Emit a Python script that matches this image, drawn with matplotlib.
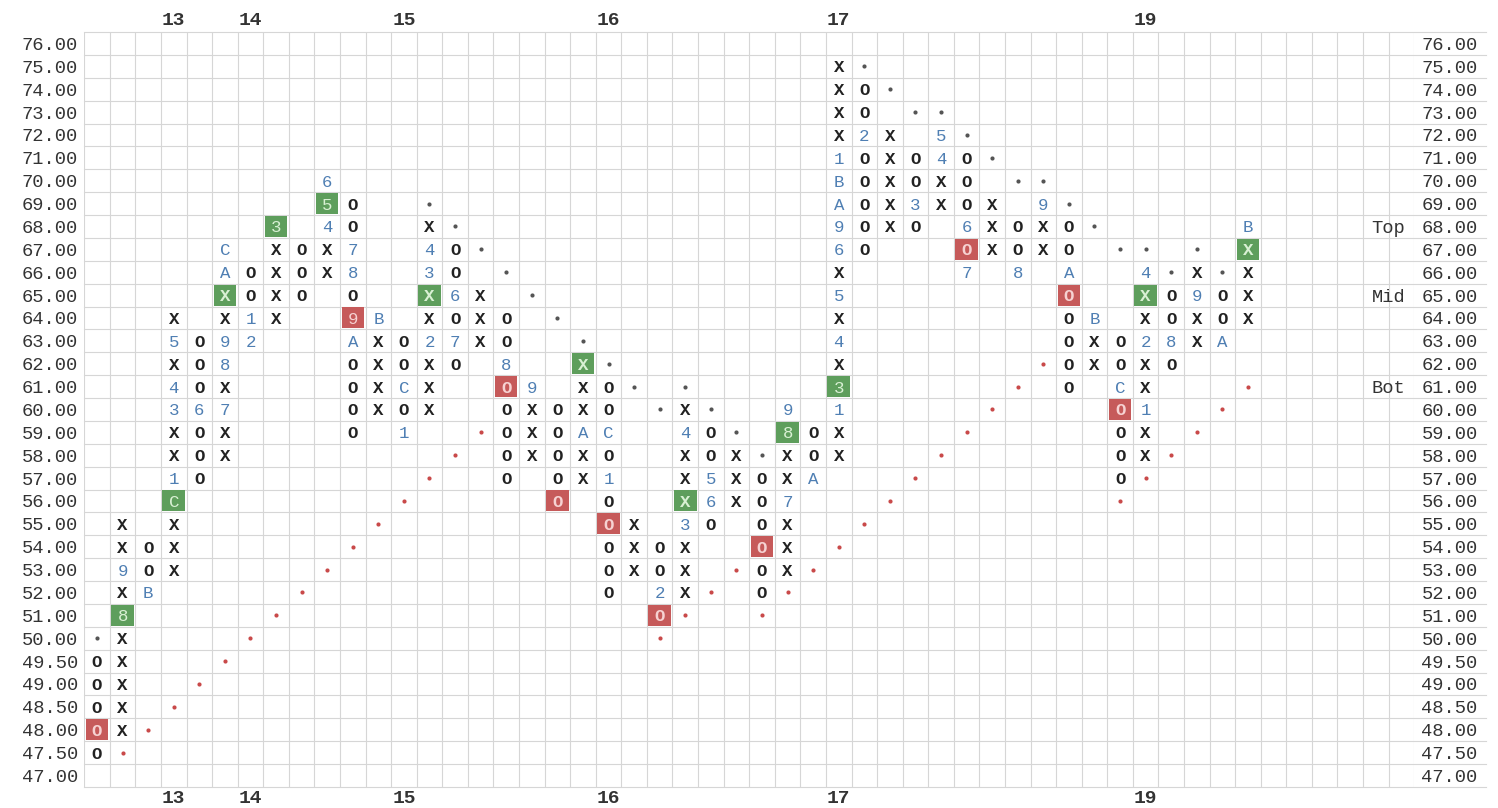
import matplotlib.pyplot as plt
from matplotlib.patches import Rectangle
import numpy as np

# price rows (box size 0.50 below 50, 1.00 above)
price_levels = [47.0, 47.5, 48.0, 48.5, 49.0, 49.5] + list(range(50, 77))

# point & figure columns: (kind, first box, last box)
columns = [
    ('O', 49.5, 47.5), ('X', 48, 55), ('O', 54, 52), ('X', 53, 64), ('O', 63, 57),
    ('X', 58, 67), ('O', 66, 63), ('X', 64, 68), ('O', 67, 65), ('X', 66, 70),
    ('O', 69, 59), ('X', 60, 64), ('O', 63, 59), ('X', 60, 68), ('O', 67, 62),
    ('X', 63, 65), ('O', 64, 57), ('X', 58, 61), ('O', 60, 56), ('X', 57, 62),
    ('O', 61, 52), ('X', 53, 55), ('O', 54, 51), ('X', 52, 60), ('O', 59, 55),
    ('X', 56, 58), ('O', 57, 52), ('X', 53, 60), ('O', 59, 57), ('X', 58, 75),
    ('O', 74, 67), ('X', 68, 72), ('O', 71, 68), ('X', 69, 72), ('O', 71, 66),
    ('X', 67, 69), ('O', 68, 66), ('X', 67, 69), ('O', 68, 61), ('X', 62, 64),
    ('O', 63, 57), ('X', 58, 66), ('O', 65, 62), ('X', 63, 66), ('O', 65, 63),
    ('X', 64, 68),
]

# month markers (column, price, char)
months = [
    (1, 53, '9'), (1, 51, '8'), (2, 52, 'B'), (3, 63, '5'), (3, 61, '4'), (3, 60, '3'),
    (3, 57, '1'), (3, 56, 'C'), (4, 60, '6'), (5, 67, 'C'), (5, 66, 'A'), (5, 63, '9'),
    (5, 62, '8'), (5, 60, '7'), (6, 64, '1'), (6, 63, '2'), (7, 68, '3'), (9, 70, '6'),
    (9, 69, '5'), (9, 68, '4'), (10, 67, '7'), (10, 66, '8'), (10, 64, '9'), (10, 63, 'A'),
    (11, 64, 'B'), (12, 61, 'C'), (12, 59, '1'), (13, 67, '4'), (13, 66, '3'), (13, 63, '2'),
    (14, 65, '6'), (14, 63, '7'), (16, 62, '8'), (17, 61, '9'), (19, 59, 'A'), (20, 59, 'C'),
    (20, 57, '1'), (22, 52, '2'), (23, 59, '4'), (23, 55, '3'), (24, 57, '5'), (24, 56, '6'),
    (27, 60, '9'), (27, 59, '8'), (27, 56, '7'), (28, 57, 'A'), (29, 71, '1'), (29, 70, 'B'),
    (29, 69, 'A'), (29, 68, '9'), (29, 67, '6'), (29, 65, '5'), (29, 63, '4'), (29, 61, '3'),
    (29, 60, '1'), (30, 72, '2'), (32, 69, '3'), (33, 72, '5'), (33, 71, '4'), (34, 68, '6'),
    (34, 66, '7'), (36, 66, '8'), (37, 69, '9'), (38, 66, 'A'), (39, 64, 'B'), (40, 61, 'C'),
    (41, 66, '4'), (41, 63, '2'), (41, 60, '1'), (42, 63, '8'), (43, 65, '9'), (44, 63, 'A'),
    (45, 68, 'B'),
]

# signal boxes
buy_boxes = [(1, 51), (3, 56), (5, 65), (7, 68), (9, 69), (13, 65), (19, 62),
             (23, 56), (27, 59), (29, 61), (41, 65), (45, 67)]
sell_boxes = [(0, 48), (10, 64), (16, 61), (18, 56), (20, 55), (22, 51), (26, 54),
              (34, 67), (38, 65), (40, 60)]

# trend line dots
support_dots = [
    (1, 47.5), (2, 48), (3, 48.5), (4, 49), (5, 49.5), (6, 50), (7, 51), (8, 52),
    (9, 53), (10, 54), (11, 55), (12, 56), (13, 57), (14, 58), (15, 59),
    (22, 50), (23, 51), (24, 52), (25, 53),
    (26, 51), (27, 52), (28, 53), (29, 54), (30, 55), (31, 56), (32, 57), (33, 58),
    (34, 59), (35, 60), (36, 61), (37, 62),
    (40, 56), (41, 57), (42, 58), (43, 59), (44, 60), (45, 61),
]
resist_dots = [
    (0, 50), (13, 69), (14, 68), (15, 67), (16, 66), (17, 65), (18, 64), (19, 63),
    (20, 62), (21, 61), (22, 60), (23, 61), (24, 60), (25, 59), (26, 58),
    (30, 75), (31, 74), (32, 73), (33, 73), (34, 72), (35, 71), (36, 70), (37, 70),
    (38, 69), (39, 68), (40, 67), (41, 67), (42, 66), (43, 67), (44, 66),
]

year_cols = [3, 6, 12, 20, 29, 41]
year_labels = ['13', '14', '15', '16', '17', '19']
level_tags = [(68, 'Top'), (65, 'Mid'), (61, 'Bot')]


def row(p):
    return price_levels.index(p)


mono = 'Liberation Mono'
n_grid_cols = 52

fig = plt.figure(figsize=(14.98, 8.08), dpi=100)
ax = fig.add_axes([84.2 / 1498, 21.1 / 808, 1330 / 1498, 754.9 / 808])
ax.set_xlim(-0.5, n_grid_cols - 0.5)
ax.set_ylim(-0.5, len(price_levels) - 0.5)
ax.axis('off')

# grid
for gx in np.arange(-0.5, n_grid_cols, 1):
    ax.axvline(gx, color='#d6d6d6', lw=0.8, zorder=0)
for gy in np.arange(-0.5, len(price_levels), 1):
    ax.plot([-0.5, 54.3], [gy, gy], color='#d6d6d6', lw=0.8, zorder=0, clip_on=False)

# cells
cells = {}
for c, (kind, a, b) in enumerate(columns):
    i0, i1 = sorted([row(a), row(b)])
    for i in range(i0, i1 + 1):
        cells[(c, i)] = (kind, '#222222')
for c, p, ch in months:
    cells[(c, row(p))] = (ch, '#4f7fb3')

boxed = {}
for c, p in buy_boxes:
    boxed[(c, row(p))] = ('#5e9e5c', '#d9f0d4')
for c, p in sell_boxes:
    boxed[(c, row(p))] = ('#c65a5a', '#f6d2d2')

for (c, i), (ch, col) in cells.items():
    weight = 'bold' if ch in 'XO' else 'normal'
    if (c, i) in boxed:
        face, col = boxed[(c, i)]
        ax.add_patch(Rectangle((c - 0.44, i - 0.46), 0.88, 0.92, facecolor=face,
                               edgecolor='none', zorder=2))
    ax.text(c, i, ch, ha='center', va='center_baseline', fontsize=12.5, family=mono,
            fontweight=weight, color=col, zorder=3)

sx = [c for c, p in support_dots]
sy = [row(p) for c, p in support_dots]
ax.scatter(sx, sy, s=9, color='#c94a4a', zorder=3, linewidths=0)
rx = [c for c, p in resist_dots]
ry = [row(p) for c, p in resist_dots]
ax.scatter(rx, ry, s=9, color='#555555', zorder=3, linewidths=0)

# price labels both sides
for i, p in enumerate(price_levels):
    lab = f'{p:.2f}'
    ax.text(-0.74, i, lab, ha='right', va='center_baseline', fontsize=13.5,
            family=mono, color='#333333', clip_on=False)
    ax.text(51.78, i, lab, ha='left', va='center_baseline', fontsize=13.5,
            family=mono, color='#333333', clip_on=False)

for p, tag in level_tags:
    ax.text(51.15, row(p), tag, ha='right', va='center_baseline', fontsize=13.5,
            family=mono, color='#333333', clip_on=False)

# year labels top and bottom
for c, lab in zip(year_cols, year_labels):
    ax.text(c, 33.1, lab, ha='center', va='center_baseline', fontsize=14,
            family=mono, fontweight='bold', color='#333333', clip_on=False)
    ax.text(c, -0.9, lab, ha='center', va='center_baseline', fontsize=14,
            family=mono, fontweight='bold', color='#333333', clip_on=False)

fig.savefig('out.png', dpi=100, facecolor='white')
